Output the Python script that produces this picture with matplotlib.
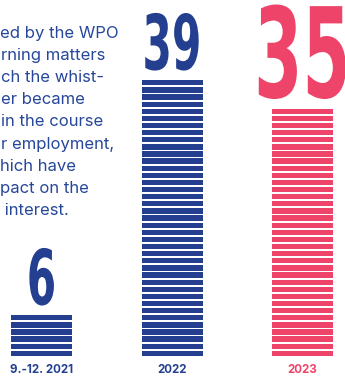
import numpy as np
import matplotlib.pyplot as plt
from matplotlib import patheffects
from matplotlib.transforms import Affine2D

labels = ['9.-12. 2021', '2022', '2023']
cases = [6, 39, 35]
colors = ['#243f8f', '#243f8f', '#ef4469']
num_size = [30.5, 30.5, 50]
num_gap = [1.5, 1.5, 1.6]

# visible (clipped) part of the description text
desc = ['ed by the WPO', 'rning matters', 'ch the whist-', 'er became',
        'in the course', 'r employment,', 'hich have', 'pact on the',
        ' interest.']
desc_x = [0, 1, 1, 1, 1, 1, 0, 0, 0]

W, H = 345, 383
pitch = 7.12   # px per stripe
base = 27      # px, bottom of the stripes


class Stretch(patheffects.AbstractPathEffect):
    # stretch glyphs vertically around the baseline (condensed look)
    def __init__(self, sy):
        super().__init__()
        self.sy = sy

    def draw_path(self, renderer, gc, tpath, affine, rgbFace=None):
        renderer.draw_path(gc, tpath, Affine2D().scale(1, self.sy) + affine, rgbFace)


fig = plt.figure(figsize=(W/100, H/100), dpi=100)
ax = fig.add_axes([0, 0, 1, 1])
ax.set_xlim(-41.5/130.5, (W-41.5)/130.5)
ax.set_ylim(-base/pitch, (H-base)/pitch)
ax.axis('off')

for i, n in enumerate(cases):
    k = np.arange(n)
    ax.bar(np.full(n, i), 0.74, bottom=k, width=61/130.5, color=colors[i], linewidth=0)
    ax.text(i, n - 0.26 + num_gap[i], str(n), ha='center', va='baseline',
            fontsize=num_size[i], fontweight='bold', family='Liberation Sans Narrow',
            color=colors[i], path_effects=[Stretch(1.8)])
    ax.text(i, -2.4, labels[i], ha='center', va='baseline', fontsize=8.3,
            fontweight='bold', family='Inter', color=colors[i])

for j, s in enumerate(desc):
    fig.text(desc_x[j]/W, 1 - (38 + 22.1*j)/H, s, ha='left', va='baseline',
             fontsize=12, family='Inter', color='#26479a')

fig.savefig('out.png', dpi=100)
